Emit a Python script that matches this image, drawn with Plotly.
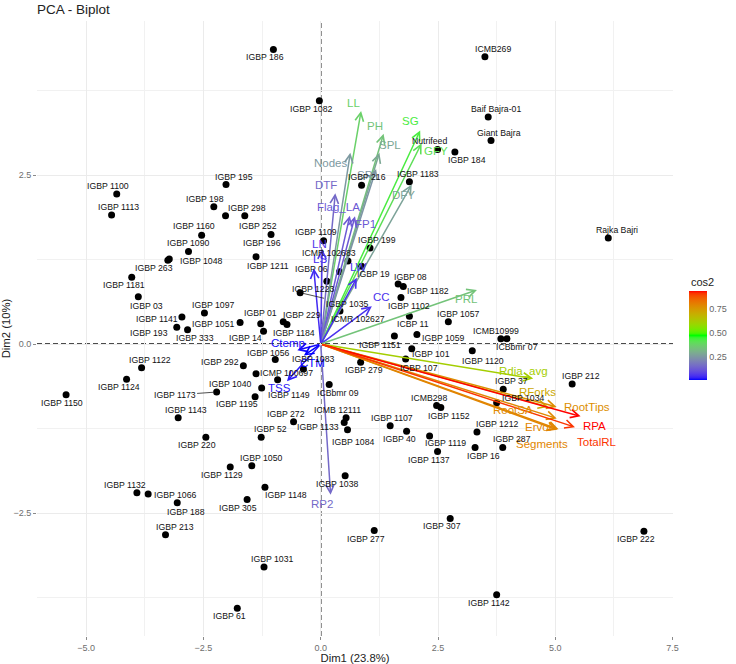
import plotly.graph_objects as go

# ---------------- data: individuals ----------------
names = ["IGBP 186", "ICMB269", "IGBP 1082", "Baif Bajra-01", "Giant Bajra", "Nutrifeed", "IGBP 184",
         "IGBP 216", "IGBP 1183", "IGBP 195", "IGBP 1100", "IGBP 1113", "IGBP 198", "IGBP 298",
         "IGBP 252", "IGBP 196", "IGBP 1211", "IGBP 1160", "IGBP 1090", "IGBP 1048", "IGBP 263",
         "IGBP 1181", "Rajka Bajri", "IGBP 1109", "ICMR 102683", "IGBP 06", "IGBP 199", "IGBP 19",
         "IGBP 1223", "IGBP 1035", "IGBP 08", "IGBP 1182", "IGBP 1102", "ICMR 102627", "ICBP 11",
         "IGBP 1057", "IGBP 03", "IGBP 1097", "IGBP 1141", "IGBP 193", "IGBP 333", "IGBP 1051",
         "IGBP 01", "IGBP 14", "IGBP 229", "IGBP 1184", "IGBP 1059", "ICMB10999", "ICBbmr 07",
         "IGBP 1151", "IGBP 101", "IGBP 1120", "IGBP 1056", "IGBP 1083", "IGBP 279", "IGBP 107",
         "IGBP 212", "IGBP 37", "IGBP 1034", "ICMB298", "IGBP 1152", "IGBP 1122", "IGBP 1124",
         "IGBP 1150", "IGBP 292", "IGBP 1040", "IGBP 1173", "IGBP 1143", "IGBP 1195", "ICMP 100697",
         "IGBP 1149", "ICBbmr 09", "IGBP 272", "IGBP 52", "ICMB 12111", "IGBP 1133", "IGBP 1084",
         "IGBP 1107", "IGBP 40", "IGBP 1119", "IGBP 1137", "IGBP 1212", "IGBP 287", "IGBP 16",
         "IGBP 220", "IGBP 1129", "IGBP 1050", "IGBP 1038", "IGBP 1148", "IGBP 305", "IGBP 1132",
         "IGBP 1066", "IGBP 188", "IGBP 213", "IGBP 277", "IGBP 307", "IGBP 222", "IGBP 1031",
         "IGBP 1142", "IGBP 61"]

dim1 = [-1.01, 3.50, -0.03, 3.57, 3.63, 2.49, 2.86,
        0.87, 1.89, -2.02, -4.35, -4.46, -2.28, -2.03,
        -1.62, -1.06, -1.38, -2.54, -2.82, -3.23, -3.26,
        -4.03, 6.13, 0.06, 0.58, 0.40, 1.05, 0.87,
        0.13, -0.44, 1.65, 1.76, 1.71, 0.41, 1.89,
        2.72, -3.89, -2.48, -2.96, -3.07, -2.84, -1.72,
        -1.28, -1.22, -0.80, -0.72, 2.05, 3.84, 3.97,
        1.57, 1.94, 3.23, -0.97, -0.37, 0.85, 1.81,
        5.36, 3.89, 3.75, 2.47, 2.56, -3.82, -4.14,
        -5.43, -1.65, -1.38, -2.22, -3.04, -1.40, -0.92,
        -1.26, 0.18, -0.58, -1.27, 0.54, 0.50, 0.57,
        1.48, 1.83, 2.32, 2.49, 3.33, 3.88, 3.29,
        -2.45, -1.93, -1.47, 0.52, -1.19, -1.57, -3.92,
        -3.68, -3.06, -3.31, 1.14, 2.76, 6.89, -1.21,
        3.75, -1.78]

dim2 = [4.36, 4.25, 3.60, 3.36, 3.01, 2.88, 2.84,
        2.35, 2.40, 2.36, 2.22, 1.91, 2.03, 1.90,
        1.90, 1.62, 1.29, 1.61, 1.37, 1.26, 1.24,
        0.99, 1.57, 1.53, 1.23, 1.07, 1.42, 1.15,
        0.93, 0.76, 0.89, 0.85, 0.69, 0.49, 0.41,
        0.33, 0.70, 0.46, 0.40, 0.25, 0.21, 0.32,
        0.30, 0.19, 0.33, 0.29, 0.14, 0.08, 0.08,
        0.12, -0.07, -0.10, -0.23, -0.37, -0.27, -0.22,
        -0.59, -0.67, -0.87, -0.91, -0.94, -0.35, -0.52,
        -0.75, -0.32, -0.44, -0.71, -1.09, -0.78, -0.53,
        -0.65, -0.60, -1.15, -1.38, -1.09, -1.16, -1.27,
        -1.21, -1.29, -1.36, -1.59, -1.30, -1.53, -1.53,
        -1.38, -1.82, -1.80, -1.95, -2.12, -2.30, -2.20,
        -2.22, -2.35, -2.82, -2.76, -2.58, -2.77, -3.30,
        -3.71, -3.91]

# ---------------- data: variables ----------------
var_names = ["LL", "PH", "SG", "SPL", "GFY", "Nodes", "DFY", "DTF", "Flag_LA", "FP1", "SP",
             "LN", "LS", "LW", "CC", "PRL", "Rdia_avg", "RForks", "RootSA", "RootTips", "Ervol",
             "Segments", "RPA", "TotalRL", "TSS", "Ctemp", "CTM", "RP2"]
var_dim1 = [0.86, 1.34, 2.12, 1.25, 2.15, 0.63, 1.94, 0.31, 0.62, 0.73, 1.18,
            0.03, -0.15, 0.77, 1.09, 3.33, 4.53, 4.85, 5.03, 5.03, 5.04,
            5.07, 5.54, 5.42, -0.72, -0.50, -0.36, 0.21]
var_dim2 = [3.45, 3.11, 3.16, 2.83, 2.97, 2.83, 2.36, 2.23, 1.90, 1.89, 2.59,
            1.41, 1.12, 0.98, 0.56, 0.80, -0.51, -0.93, -1.10, -0.93, -1.27,
            -1.26, -1.07, -1.23, -0.55, -0.09, -0.17, -2.23]
var_cos2 = [0.37, 0.34, 0.43, 0.28, 0.40, 0.25, 0.27, 0.15, 0.12, 0.12, 0.24,
            0.06, 0.04, 0.05, 0.05, 0.34, 0.61, 0.71, 0.78, 0.77, 0.79,
            0.79, 0.935, 0.91, 0.02, 0.01, 0.005, 0.15]

cbar_title = "cos2"
cbar_ticks = [0.25, 0.50, 0.75]
cbar_ticktext = ["0.25", "0.50", "0.75"]

# ---------------- styling (label offsets in px: dx right, dy down) ----------------
point_label_shift = [(-8, 8), (8, -8), (-8, 8), (8, -8), (8, -8), (-8, -8), (12, 8),
                     (5, -8), (9, -8), (8, -8), (-9, -8), (7, -8), (-9, -8), (21, -8),
                     (13, 10), (-9, 8), (12, 9), (-8, -9), (0, -8), (32, 2), (-14, 8),
                     (-8, 8), (9, -8), (-8, -9), (-19, -8), (-28, -3), (7, -8), (12, 8),
                     (-13, 8), (47, 11), (12, -7), (25, 4), (8, 9), (18, 8), (4, 8),
                     (10, -8), (8, 9), (9, -8), (-25, 2), (-28, 6), (7, 8), (-27, 2),
                     (0, -11), (-18, 7), (19, -7), (7, 9), (27, 3), (-5, -8), (10, 8),
                     (-14, 9), (19, 5), (11, 10), (-7, -7), (10, -10), (3, 8), (13, 9),
                     (9, -8), (8, -8), (27, -5), (-8, -8), (8, 8), (8, -8), (-8, 8),
                     (-4, 8), (-23, -4), (-26, 10), (-42, 3), (8, -8), (-18, 7), (9, -7),
                     (27, 7), (9, 8), (-8, -8), (9, -8), (-9, -8), (-26, 5), (6, 12),
                     (2, -8), (-7, 8), (16, 7), (-9, 8), (21, -8), (9, -8), (8, 9),
                     (-9, 8), (-8, 8), (10, -8), (-8, 8), (21, 8), (-9, 9), (-12, -8),
                     (27, 1), (9, 9), (9, -8), (-8, 8), (-8, 8), (-8, 8), (8, -8),
                     (-8, 8), (-8, 8)]
connector_labels = {"IGBP 1035", "IGBP 1173"}

var_label_shift = [(-8, -8), (-9, -8), (-10, -9), (11, -8), (14, 8), (-20, 10), (-8, 10), (-9, -8),
                   (-11, -9), (10, 8), (-11, 6), (-3, -5), (6, -9), (2, -11), (10, -9), (-10, 9),
                   (-10, -8), (-11, -15), (-44, -8), (30, 0), (-19, -3), (-17, 15), (14, 10),
                   (22, 15), (-7, 7), (-9, -7), (9, 7), (-9, 9)]

FONT = "Liberation Sans, Arial, sans-serif"
W, H = 736, 664
M = dict(l=37, r=63, t=21, b=28)


# ---- Lab-space gradient (blue -> green -> red), like ggplot's gradientn ----
def _lin(c):
    c = c / 255.0
    return c / 12.92 if c <= 0.04045 else ((c + 0.055) / 1.055) ** 2.4


def _gam(c):
    c = max(0.0, min(1.0, c))
    v = 12.92 * c if c <= 0.0031308 else 1.055 * c ** (1 / 2.4) - 0.055
    return int(round(max(0, min(1, v)) * 255))


def _f(t):
    return t ** (1 / 3) if t > 0.008856 else 7.787 * t + 16 / 116


def _finv(t):
    return t ** 3 if t ** 3 > 0.008856 else (t - 16 / 116) / 7.787


def rgb2lab(rgb):
    r, g, b = (_lin(v) for v in rgb)
    X = (0.4124564 * r + 0.3575761 * g + 0.1804375 * b) / 0.95047
    Y = (0.2126729 * r + 0.7151522 * g + 0.0721750 * b)
    Z = (0.0193339 * r + 0.1191920 * g + 0.9503041 * b) / 1.08883
    fx, fy, fz = _f(X), _f(Y), _f(Z)
    return (116 * fy - 16, 500 * (fx - fy), 200 * (fy - fz))


def lab2hex(lab):
    L, a, b = lab
    fy = (L + 16) / 116
    fx = fy + a / 500
    fz = fy - b / 200
    X, Y, Z = _finv(fx) * 0.95047, _finv(fy), _finv(fz) * 1.08883
    r = 3.2404542 * X - 1.5371385 * Y - 0.4985314 * Z
    g = -0.9692660 * X + 1.8760108 * Y + 0.0415560 * Z
    bb = 0.0556434 * X - 0.2040259 * Y + 1.0572252 * Z
    return "#%02x%02x%02x" % (_gam(r), _gam(g), _gam(bb))


STOPS = [rgb2lab((0, 0, 255)), rgb2lab((0, 255, 0)), rgb2lab((255, 0, 0))]


def grad(t):
    t = max(0.0, min(1.0, t))
    if t <= 0.5:
        a, b, u = STOPS[0], STOPS[1], t / 0.5
    else:
        a, b, u = STOPS[1], STOPS[2], (t - 0.5) / 0.5
    return lab2hex(tuple(a[i] + (b[i] - a[i]) * u for i in range(3)))


colorscale = [[i / 40, grad(i / 40)] for i in range(41)]
cmin, cmax = min(var_cos2), max(var_cos2)
var_colors = [grad((c - cmin) / (cmax - cmin)) for c in var_cos2]

fig = go.Figure()

fig.add_trace(go.Scatter(
    x=dim1, y=dim2, mode="markers", text=names, hoverinfo="text",
    marker=dict(color="black", size=7), showlegend=False))

fig.add_trace(go.Scatter(
    x=var_dim1, y=var_dim2, mode="markers", hoverinfo="skip", showlegend=False,
    marker=dict(color=var_cos2, colorscale=colorscale, cmin=cmin, cmax=cmax, size=2, opacity=0,
                showscale=True,
                colorbar=dict(
                    xref="container", x=689 / W, xanchor="left", xpad=0,
                    yref="container", y=1 - 362.5 / H, yanchor="middle", ypad=0,
                    lenmode="pixels", len=89, thickness=18, outlinewidth=0,
                    tickvals=cbar_ticks, ticktext=cbar_ticktext, ticks="",
                    tickfont=dict(size=9, color="#666", family=FONT)))))

plot_w = W - M["l"] - M["r"]
plot_h = H - M["t"] - M["b"]

annotations = []
# arrows
for vx, vy, col in zip(var_dim1, var_dim2, var_colors):
    annotations.append(dict(x=vx, y=vy, ax=0, ay=0, xref="x", yref="y", axref="x", ayref="y",
                            text="", showarrow=True, arrowhead=5, arrowsize=1.1, arrowwidth=1.5,
                            arrowcolor=col, standoff=0))
# variable labels
for vn, vx, vy, col, (dx, dy) in zip(var_names, var_dim1, var_dim2, var_colors, var_label_shift):
    annotations.append(dict(x=vx, y=vy, xref="x", yref="y", text=vn, showarrow=False,
                            xshift=dx, yshift=-dy, font=dict(size=11.5, color=col, family=FONT)))
# individual labels
for n, px_, py_, (dx, dy) in zip(names, dim1, dim2, point_label_shift):
    if n in connector_labels:
        annotations.append(dict(x=px_, y=py_, xref="x", yref="y", text=n, showarrow=True,
                                arrowhead=0, arrowwidth=0.8, arrowcolor="#222", ax=dx, ay=dy,
                                standoff=3, font=dict(size=8.7, color="#111", family=FONT)))
    else:
        annotations.append(dict(x=px_, y=py_, xref="x", yref="y", text=n, showarrow=False,
                                xshift=dx, yshift=-dy, font=dict(size=8.7, color="#111", family=FONT)))
# colorbar title
annotations.append(dict(xref="paper", yref="paper",
                        x=(689 - M["l"]) / plot_w, y=(H - M["b"] - 282) / plot_h,
                        xanchor="left", yanchor="middle", showarrow=False, text=cbar_title,
                        font=dict(size=11, color="#222", family=FONT)))

axis_common = dict(
    showgrid=True, gridcolor="#ebebeb", gridwidth=1, zeroline=False, showline=False,
    ticks="outside", ticklen=3, tickcolor="#8a8a8a", tickwidth=1, tick0=0, dtick=2.5,
    tickformat=".1f", tickfont=dict(size=9, color="#6e6e6e", family=FONT),
    minor=dict(tick0=0, dtick=1.25, showgrid=True, gridcolor="#f1f1f1", gridwidth=0.7),
    automargin=False)

fig.update_layout(
    width=W, height=H,
    margin=M,
    paper_bgcolor="white", plot_bgcolor="white",
    font=dict(family=FONT, color="#222"),
    title=dict(text="PCA - Biplot", x=0, xref="paper", xanchor="left",
               y=1 - 9 / H, yref="container", yanchor="middle",
               font=dict(size=13.5, color="#222", family=FONT)),
    xaxis=dict(range=[-6.05, 7.51],
               title=dict(text="Dim1 (23.8%)", standoff=2, font=dict(size=11.3, color="#222", family=FONT)),
               **axis_common),
    yaxis=dict(range=[-4.32, 4.78],
               title=dict(text="Dim2 (10%)", standoff=6, font=dict(size=11.3, color="#222", family=FONT)),
               **axis_common),
    shapes=[
        dict(type="line", xref="x", yref="paper", x0=0, x1=0, y0=0, y1=1, layer="between",
             line=dict(color="#111", width=1.4, dash="5px,3px")),
        dict(type="line", xref="paper", yref="y", x0=0, x1=1, y0=0, y1=0, layer="between",
             line=dict(color="#111", width=1.4, dash="5px,3px")),
    ],
    annotations=annotations,
)

fig.write_html("out.html")
